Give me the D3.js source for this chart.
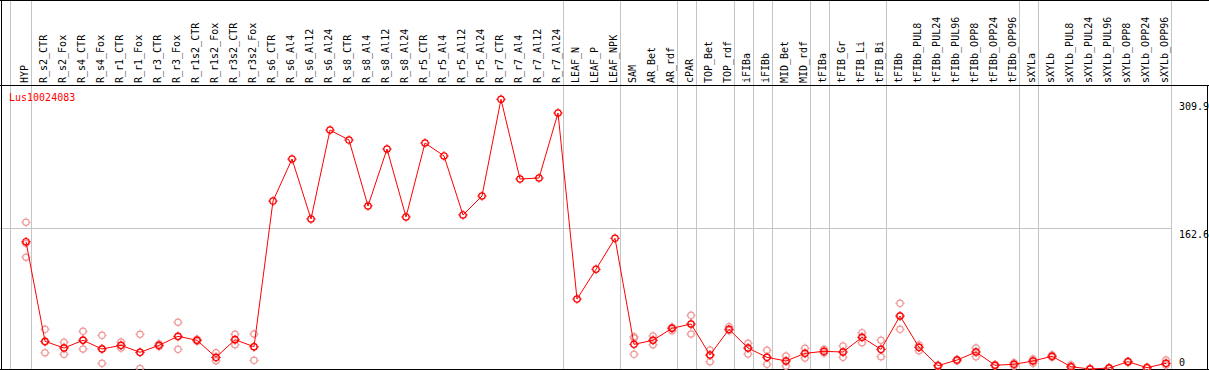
<!DOCTYPE html>
<html>
<head>
<meta charset="utf-8">
<script src="https://cdn.jsdelivr.net/npm/d3@7"></script>
<style>
  html, body { margin: 0; padding: 0; background: #fff; }
  svg { display: block; }
  text { font-family: "DejaVu Sans Mono", "Liberation Mono", monospace; font-size: 10px; }
</style>
</head>
<body>
<div id="chart"></div>
<script>
const geneId = "Lus10024083";

const samples = [
  "HYP", "R_s2_CTR", "R_s2_Fox", "R_s4_CTR", "R_s4_Fox", "R_r1_CTR", "R_r1_Fox",
  "R_r3_CTR", "R_r3_Fox", "R_r1s2_CTR", "R_r1s2_Fox", "R_r3s2_CTR", "R_r3s2_Fox",
  "R_s6_CTR", "R_s6_Al4", "R_s6_Al12", "R_s6_Al24", "R_s8_CTR", "R_s8_Al4", "R_s8_Al12",
  "R_s8_Al24", "R_r5_CTR", "R_r5_Al4", "R_r5_Al12", "R_r5_Al24", "R_r7_CTR", "R_r7_Al4",
  "R_r7_Al12", "R_r7_Al24", "LEAF_N", "LEAF_P", "LEAF_NPK", "SAM", "AR_Bet", "AR_rdf",
  "cPAR", "TOP_Bet", "TOP_rdf", "iFIBa", "iFIBb", "MID_Bet", "MID_rdf", "tFIBa",
  "tFIB_Gr", "tFIB_Li", "tFIB_Bi", "tFIBb", "tFIBb_PUL8", "tFIBb_PUL24", "tFIBb_PUL96",
  "tFIBb_OPP8", "tFIBb_OPP24", "tFIBb_OPP96", "sXYLa", "sXYLb", "sXYLb_PUL8",
  "sXYLb_PUL24", "sXYLb_PUL96", "sXYLb_OPP8", "sXYLb_OPP24", "sXYLb_OPP96"
];

// mean expression per sample
const means = [
  146.3, 31.8, 24.1, 33.0, 23.0, 27.2, 19.2, 27.2, 37.6, 33.0, 13.4, 33.7, 25.6,
  193.0, 241.3, 172.4, 274.6, 263.1, 187.3, 252.8, 174.7, 259.7, 244.8, 177.0, 198.8,
  309.9, 218.3, 219.5, 294.2, 80.4, 114.6, 150.2,
  28.4, 33.0, 46.8, 51.7, 16.1, 45.6, 24.1, 13.4, 9.2, 18.0, 20.3, 19.5, 36.4, 22.6,
  60.9, 24.9, 3.8, 10.3, 19.5, 4.3, 5.4, 9.2, 14.6, 2.6, 0.0, 1.1, 8.4, 1.5, 6.5
];

// individual replicates (empty where none are drawn)
const replicates = [
  [168.6, 144.5, 128.4], [45.6, 31.0, 18.7], [30.7, 24.5, 16.9], [43.3, 33.5, 23.0],
  [38.7, 23.5, 6.5], [31.0, 27.0, 24.1], [39.9, 19.0, 0.5], [28.7, 27.0, 25.9],
  [53.7, 37.0, 22.6], [34.1, 33.0, 31.8], [18.7, 13.0, 9.5], [39.9, 33.5, 27.9],
  [40.2, 25.5, 10.0],
  [], [], [], [], [], [], [], [], [], [], [], [], [], [], [], [], [], [], [],
  [37.1, 35.6, 16.9], [37.9, 33.0, 27.9], [47.9, 46.8, 44.0], [61.7, 51.5, 40.2],
  [21.8, 16.0, 8.4], [48.6, 45.5, 44.0], [29.5, 24.0, 17.2], [21.5, 13.5, 5.4],
  [14.9, 9.0, 3.4], [23.8, 18.0, 12.6], [22.6, 20.0, 18.4], [26.4, 19.5, 13.4],
  [41.7, 36.5, 30.2], [33.0, 22.5, 14.1], [75.5, 61.0, 45.6], [27.6, 25.0, 21.0],
  [4.6, 3.8, 3.0], [11.0, 10.3, 9.5], [24.1, 19.5, 14.1], [5.0, 4.3, 3.6],
  [7.2, 5.4, 3.4], [11.5, 9.2, 6.5], [16.1, 14.6, 13.5], [4.6, 2.6, 1.8],
  [0.6, 0.0, 0.0], [1.6, 1.1, 0.6], [9.0, 8.4, 7.6], [2.2, 1.5, 0.8], [10.3, 6.5, 4.5]
];

const yTickValues = [0, 162.6, 309.9];
const yMax = 325.2;

// samples after which a grey group separator is drawn
const groupEnds = [
  "HYP", "R_r7_Al24", "LEAF_NPK", "AR_rdf", "cPAR", "TOP_rdf", "iFIBa", "iFIBb",
  "MID_rdf", "tFIBa", "tFIB_Bi", "tFIBb_OPP96", "sXYLa", "sXYLb_OPP96"
];

const W = 1209, H = 370;
const headerBottom = 85.5;
const plotTop = 86, plotBottom = 369;

const svg = d3.select("#chart").append("svg")
  .attr("width", W).attr("height", H);

const x = d3.scalePoint().domain(samples).range([26, 1166]);
const y = d3.scaleLinear().domain([0, yMax]).range([plotBottom, plotTop]);

const grey = "#c4c4c4";

// vertical separators
const sepX = [x(samples[0]) - 15.5].concat(groupEnds.map(s => Math.round(x(s) + 4.75) + 0.5));
svg.append("g").selectAll("line").data(sepX).join("line")
  .attr("x1", d => d).attr("x2", d => d)
  .attr("y1", 0).attr("y2", H)
  .attr("stroke", grey).attr("stroke-width", 1);

// mid horizontal line
svg.append("line")
  .attr("x1", 0).attr("x2", 1172)
  .attr("y1", Math.round(y(yTickValues[1])) + 0.5)
  .attr("y2", Math.round(y(yTickValues[1])) + 0.5)
  .attr("stroke", grey);

// frame
svg.append("line").attr("x1", 0).attr("x2", W).attr("y1", 0.5).attr("y2", 0.5).attr("stroke", "#000");
svg.append("line").attr("x1", 0).attr("x2", W).attr("y1", headerBottom).attr("y2", headerBottom).attr("stroke", "#000");
svg.append("line").attr("x1", 0).attr("x2", W).attr("y1", plotBottom + 0.5).attr("y2", plotBottom + 0.5).attr("stroke", "#000");
svg.append("line").attr("x1", 1.5).attr("x2", 1.5).attr("y1", 0).attr("y2", H).attr("stroke", "#000");
svg.append("line").attr("x1", 1207.5).attr("x2", 1207.5).attr("y1", headerBottom).attr("y2", H).attr("stroke", "#000");

// sample labels
svg.append("g").selectAll("text").data(samples).join("text")
  .attr("transform", d => `translate(${x(d) + 2},83) rotate(-90)`)
  .attr("fill", "#000")
  .text(d => d);

// y labels
svg.append("g").selectAll("text").data(yTickValues).join("text")
  .attr("x", 1179)
  .attr("y", d => Math.min(y(d) + 10.5, 366))
  .attr("fill", "#000")
  .text(d => d);

// gene id
svg.append("text").attr("x", 9).attr("y", 101).attr("fill", "#ff0000").text(geneId);

function marker(g, color, r) {
  g.append("circle").attr("r", r).attr("fill", "none").attr("stroke", color).attr("stroke-width", 1.2);
  g.append("path")
    .attr("d", `M0,${-r - 1.5}V${-r + 0.5}M0,${r - 0.5}V${r + 1.5}M${-r - 1.5},0H${-r + 0.5}M${r - 0.5},0H${r + 1.5}`)
    .attr("stroke", color).attr("stroke-width", 1);
}

// replicate points
const repPts = [];
replicates.forEach((reps, i) => reps.forEach(v => repPts.push({ s: samples[i], v })));
svg.append("g").selectAll("g").data(repPts).join("g")
  .attr("transform", d => `translate(${x(d.s)},${y(d.v)})`)
  .each(function() { marker(d3.select(this), "#ef9a9a", 3.2); });

// mean line
const pts = samples.map((s, i) => ({ s, v: means[i] }));
svg.append("path").datum(pts)
  .attr("fill", "none").attr("stroke", "#ff0000").attr("stroke-width", 1)
  .attr("d", d3.line().x(d => x(d.s)).y(d => y(d.v)));

svg.append("g").selectAll("g").data(pts).join("g")
  .attr("transform", d => `translate(${x(d.s)},${y(d.v)})`)
  .each(function() { marker(d3.select(this), "#ff0000", 3.2); });
</script>
</body>
</html>
